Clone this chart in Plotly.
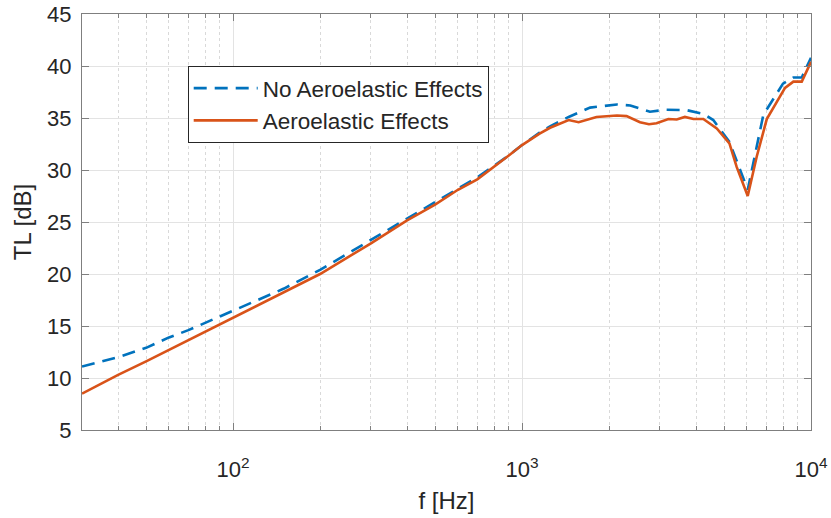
import plotly.graph_objects as go

# ---- data ----
freq_no_aero = [30, 40, 50, 60, 70, 80, 100, 150, 200, 300, 400, 500, 600, 700, 800, 900,
                1000, 1150, 1250, 1450, 1720, 2130, 2370, 2770, 3160, 3720, 4240, 4590,
                5220, 6040, 6840, 8000, 8690, 9290, 10000]
tl_no_aero = [11.1, 12.0, 12.9, 13.9, 14.6, 15.3, 16.4, 18.6, 20.4, 23.3, 25.35, 26.95, 28.2,
              29.3, 30.4, 31.4, 32.4, 33.6, 34.2, 35.1, 36.0, 36.3, 36.2, 35.6, 35.8, 35.75,
              35.4, 34.8, 32.7, 28.1, 35.3, 38.3, 38.9, 38.9, 40.8]

freq_aero = [30, 40, 50, 60, 70, 80, 100, 150, 200, 300, 400, 500, 600, 700, 800, 900,
             1000, 1150, 1250, 1450, 1570, 1810, 2130, 2300, 2560, 2750, 2920, 3210, 3430,
             3660, 3920, 4240, 4720, 5220, 5530, 6040, 6490, 7030, 8130, 8690, 9290, 10000]
tl_aero = [8.5, 10.3, 11.6, 12.7, 13.6, 14.45, 15.8, 18.2, 20.0, 22.95, 25.16, 26.67, 28.1,
           29.1, 30.3, 31.4, 32.4, 33.5, 34.06, 34.8, 34.6, 35.1, 35.24, 35.18, 34.6, 34.4,
           34.5, 34.9, 34.86, 35.1, 34.9, 34.9, 34.0, 32.55, 30.3, 27.5, 31.3, 34.9, 37.9,
           38.5, 38.5, 40.4]

series_names = ["No Aeroelastic Effects", "Aeroelastic Effects"]
x_tickvals = [100, 1000, 10000]
x_ticktext = ["10<sup>2</sup>", "10<sup>3</sup>", "10<sup>4</sup>"]
y_tickvals = [5, 10, 15, 20, 25, 30, 35, 40, 45]

BLUE = "#0072BD"
RED = "#D95319"
TXT = "#262626"
AX = "#7f7f7f"
FONT = "Liberation Sans, Arial, Helvetica, sans-serif"

fig = go.Figure()
fig.add_trace(go.Scatter(x=freq_no_aero, y=tl_no_aero, mode="lines", name=series_names[0],
                         line=dict(color=BLUE, width=2.6, dash="13px,8px")))
fig.add_trace(go.Scatter(x=freq_aero, y=tl_aero, mode="lines", name=series_names[1],
                         line=dict(color=RED, width=2.6)))

fig.update_layout(
    width=831, height=518,
    margin=dict(l=82, r=20, t=14, b=88),
    paper_bgcolor="white", plot_bgcolor="white",
    font=dict(family=FONT, color=TXT, size=22),
    showlegend=True,
    legend=dict(x=0.145, y=0.875, xanchor="left", yanchor="top",
                bgcolor="white", bordercolor=TXT, borderwidth=1,
                font=dict(size=22.5, color=TXT), itemwidth=64,
                tracegroupgap=0),
)

fig.update_xaxes(
    type="log", range=[1.4771, 4.0], automargin=False,
    tickvals=x_tickvals, ticktext=x_ticktext,
    ticks="inside", ticklen=7, tickcolor=AX, tickwidth=1,
    ticklabelstandoff=20, ticklabeloverflow="allow",
    showline=True, linecolor=AX, linewidth=1, mirror="ticks",
    showgrid=True, gridcolor="#e3e3e3", gridwidth=1,
    tickfont=dict(size=22, color=TXT),
    minor=dict(dtick="D1", ticks="inside", ticklen=4, tickcolor=AX,
               showgrid=True, gridcolor="#d9d9d9", griddash="dot", gridwidth=1),
    title=dict(text="f [Hz]", font=dict(size=24, color=TXT), standoff=10),
    zeroline=False,
)
fig.update_yaxes(
    range=[5, 45], tickvals=y_tickvals, automargin=False,
    ticks="inside", ticklen=7, tickcolor=AX, tickwidth=1,
    ticklabelstandoff=5, ticklabeloverflow="allow",
    showline=True, linecolor=AX, linewidth=1, mirror="ticks",
    showgrid=True, gridcolor="#e3e3e3", gridwidth=1,
    tickfont=dict(size=22, color=TXT),
    title=dict(text="TL [dB]", font=dict(size=24, color=TXT), standoff=8),
    zeroline=False,
)

fig.write_html("out.html", config={"displayModeBar": False},
               post_script="document.body.style.margin='0';")
